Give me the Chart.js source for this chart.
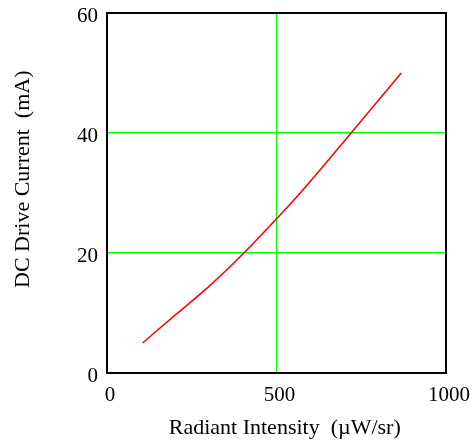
<!DOCTYPE html>
<html>
<head>
<meta charset="utf-8">
<script src="https://cdn.jsdelivr.net/npm/chart.js@4"></script>
<style>
  html, body { margin: 0; padding: 0; background: #fff; }
  #wrap { width: 476px; height: 444px; }
</style>
</head>
<body>
<div id="wrap"><canvas id="chart" width="476" height="444"></canvas></div>
<script>
// data
const intensity = [105, 200, 300, 400, 500, 570, 720, 868];   // uW/sr
const current   = [5, 9.6, 14.4, 19.8, 25.7, 30, 40, 50];       // mA
const xTicks = [0, 500, 1000];
const yTicks = [0, 20, 40, 60];

const points = intensity.map((x, i) => ({ x: x, y: current[i] }));
const tickFont = { family: 'Liberation Serif', size: 21 };
const titleFont = { family: 'Liberation Serif', size: 22 };
const pad = n => '\u00a0'.repeat(n);

// black frame round the plot area (covers the edge grid lines)
const frame = {
    id: 'frame',
    afterDraw(chart) {
        const a = chart.chartArea, c = chart.ctx;
        c.save();
        c.strokeStyle = '#000';
        c.lineWidth = 2;
        c.strokeRect(a.left, a.top, a.right - a.left, a.bottom - a.top);
        c.restore();
    }
};

new Chart(document.getElementById('chart'), {
    type: 'line',
    data: {
        datasets: [{
            data: points,
            borderColor: '#ff0000',
            borderWidth: 1.5,
            pointRadius: 0,
            cubicInterpolationMode: 'monotone',
            fill: false
        }]
    },
    options: {
        responsive: false,
        animation: false,
        layout: { padding: { top: 13, right: 30, left: 0, bottom: 0 } },
        plugins: { legend: { display: false }, tooltip: { enabled: false } },
        scales: {
            x: {
                type: 'linear',
                min: 0, max: 1000,
                afterBuildTicks: s => { s.ticks = xTicks.map(v => ({ value: v })); },
                afterFit: s => { s.height = 71; s.paddingLeft = 0; s.paddingRight = 0; },
                grid: { color: '#00ff00', lineWidth: 1, drawTicks: false },
                border: { display: false },
                ticks: { color: '#000', font: tickFont, padding: 10, labelOffset: 3, maxRotation: 0, callback: v => String(v) },
                title: { display: true, text: pad(3) + 'Radiant Intensity  (\u00b5W/sr)', color: '#000', font: titleFont, padding: { bottom: 3 } }
            },
            y: {
                min: 0, max: 60,
                afterBuildTicks: s => { s.ticks = yTicks.map(v => ({ value: v })); },
                afterFit: s => { s.width = 107; s.paddingTop = 0; s.paddingBottom = 0; },
                grid: { color: '#00ff00', lineWidth: 1.5, drawTicks: false },
                border: { display: false },
                ticks: { color: '#000', font: tickFont, padding: 9, labelOffset: 3, callback: v => String(v) },
                title: { display: true, text: pad(5) + 'DC Drive Current  (mA)', color: '#000', font: titleFont, padding: { top: 10 } }
            }
        }
    },
    plugins: [frame]
});
</script>
</body>
</html>
